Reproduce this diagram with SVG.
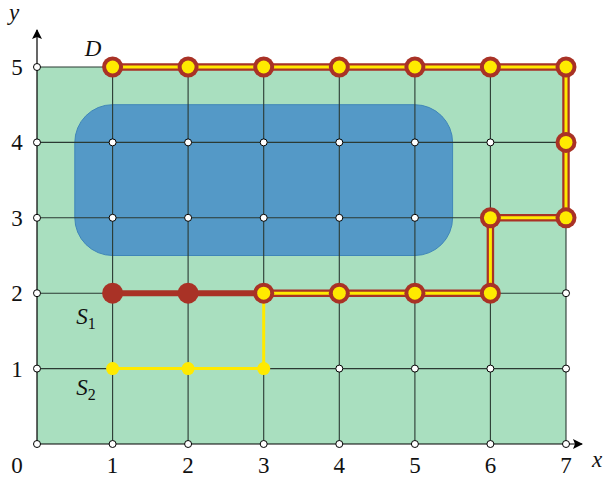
<svg xmlns="http://www.w3.org/2000/svg" width="604" height="482" viewBox="0 0 604 482">
<defs>
<style>
.grid{stroke:#2b3a33;stroke-width:1.1;fill:none}
.pt{fill:#fff;stroke:#000;stroke-width:1}
.lbl{font-family:"Liberation Serif",serif;font-size:23px;fill:#111;text-anchor:middle}
.it{font-style:italic}
.sub{font-size:16px}
.casing{fill:none;stroke:#a93226;stroke-width:7.5;stroke-linejoin:round}
.core{fill:none;stroke:#ffea00;stroke-width:3;stroke-linejoin:round}
.bd{fill:#a93226}
.yd{fill:#ffea00}
</style>
<marker id="arr" viewBox="0 0 10 10" refX="9" refY="5" markerWidth="10" markerHeight="10" markerUnits="userSpaceOnUse" orient="auto">
<path d="M0,0 L10,5 L0,10 L2,5 Z" fill="#000"/>
</marker>
</defs>
<rect x="0" y="0" width="604" height="482" fill="#fff"/>
<g id="region">
<rect x="37" y="67" width="529" height="377" fill="#a9dfbf"/>
<rect x="74.8" y="104.7" width="377.8" height="150.8" rx="37.8" ry="37.8" fill="#5499c7" stroke="#3f86b8" stroke-width="1"/>
</g>
<g id="grid" class="grid">
<path d="M112.6 67V444M188.1 67V444M263.7 67V444M339.3 67V444M414.9 67V444M490.4 67V444M566 67V444"/>
<path d="M37 67H566M37 142.4H566M37 217.8H566M37 293.2H566M37 368.6H566"/>
</g>
<g id="axes">
<line x1="37" y1="444" x2="37" y2="30" stroke="#000" stroke-width="1.2" marker-end="url(#arr)"/>
<line x1="37" y1="444" x2="582" y2="444" stroke="#000" stroke-width="1.2" marker-end="url(#arr)"/>
</g>
<g id="points">
<circle class="pt" cx="37" cy="444" r="3.5"/><circle class="pt" cx="112.6" cy="444" r="3.5"/><circle class="pt" cx="188.1" cy="444" r="3.5"/><circle class="pt" cx="263.7" cy="444" r="3.5"/><circle class="pt" cx="339.3" cy="444" r="3.5"/><circle class="pt" cx="414.9" cy="444" r="3.5"/><circle class="pt" cx="490.4" cy="444" r="3.5"/><circle class="pt" cx="566" cy="444" r="3.5"/>
<circle class="pt" cx="37" cy="368.6" r="3.5"/><circle class="pt" cx="339.3" cy="368.6" r="3.5"/><circle class="pt" cx="414.9" cy="368.6" r="3.5"/><circle class="pt" cx="490.4" cy="368.6" r="3.5"/><circle class="pt" cx="566" cy="368.6" r="3.5"/>
<circle class="pt" cx="37" cy="293.2" r="3.5"/><circle class="pt" cx="566" cy="293.2" r="3.5"/>
<circle class="pt" cx="37" cy="217.8" r="3.5"/><circle class="pt" cx="112.6" cy="217.8" r="3.5"/><circle class="pt" cx="188.1" cy="217.8" r="3.5"/><circle class="pt" cx="263.7" cy="217.8" r="3.5"/><circle class="pt" cx="339.3" cy="217.8" r="3.5"/><circle class="pt" cx="414.9" cy="217.8" r="3.5"/>
<circle class="pt" cx="37" cy="142.4" r="3.5"/><circle class="pt" cx="112.6" cy="142.4" r="3.5"/><circle class="pt" cx="188.1" cy="142.4" r="3.5"/><circle class="pt" cx="263.7" cy="142.4" r="3.5"/><circle class="pt" cx="339.3" cy="142.4" r="3.5"/><circle class="pt" cx="414.9" cy="142.4" r="3.5"/><circle class="pt" cx="490.4" cy="142.4" r="3.5"/>
<circle class="pt" cx="37" cy="67" r="3.5"/>
</g>
<g id="S2">
<polyline points="112.6,368.6 263.7,368.6 263.7,293.2" fill="none" stroke="#ffea00" stroke-width="3"/>
<circle class="yd" cx="112.6" cy="368.6" r="6.5"/><circle class="yd" cx="188.1" cy="368.6" r="6.5"/><circle class="yd" cx="263.7" cy="368.6" r="6.5"/>
</g>
<g id="S1">
<line x1="112.6" y1="293.2" x2="263.7" y2="293.2" stroke="#a93226" stroke-width="6"/>
<circle class="bd" cx="112.6" cy="293.2" r="10.5"/><circle class="bd" cx="188.1" cy="293.2" r="10.5"/>
</g>
<g id="D">
<polyline class="casing" points="263.7,293.2 490.4,293.2 490.4,217.8 566,217.8 566,67 112.6,67"/>
<polyline class="core" points="263.7,293.2 490.4,293.2 490.4,217.8 566,217.8 566,67 112.6,67"/>
<g class="bd">
<circle cx="263.7" cy="293.2" r="10.5"/><circle cx="339.3" cy="293.2" r="10.5"/><circle cx="414.9" cy="293.2" r="10.5"/><circle cx="490.4" cy="293.2" r="10.5"/>
<circle cx="490.4" cy="217.8" r="10.5"/><circle cx="566" cy="217.8" r="10.5"/><circle cx="566" cy="142.4" r="10.5"/>
<circle cx="566" cy="67" r="10.5"/><circle cx="490.4" cy="67" r="10.5"/><circle cx="414.9" cy="67" r="10.5"/><circle cx="339.3" cy="67" r="10.5"/><circle cx="263.7" cy="67" r="10.5"/><circle cx="188.1" cy="67" r="10.5"/><circle cx="112.6" cy="67" r="10.5"/>
</g>
<g class="yd">
<circle cx="263.7" cy="293.2" r="6.5"/><circle cx="339.3" cy="293.2" r="6.5"/><circle cx="414.9" cy="293.2" r="6.5"/><circle cx="490.4" cy="293.2" r="6.5"/>
<circle cx="490.4" cy="217.8" r="6.5"/><circle cx="566" cy="217.8" r="6.5"/><circle cx="566" cy="142.4" r="6.5"/>
<circle cx="566" cy="67" r="6.5"/><circle cx="490.4" cy="67" r="6.5"/><circle cx="414.9" cy="67" r="6.5"/><circle cx="339.3" cy="67" r="6.5"/><circle cx="263.7" cy="67" r="6.5"/><circle cx="188.1" cy="67" r="6.5"/><circle cx="112.6" cy="67" r="6.5"/>
</g>
</g>
<g id="labels" class="lbl">
<text x="17" y="473">0</text>
<text x="112.6" y="473">1</text><text x="188.1" y="473">2</text><text x="263.7" y="473">3</text><text x="339.3" y="473">4</text><text x="414.9" y="473">5</text><text x="490.4" y="473">6</text><text x="566" y="473">7</text>
<text x="597" y="467" class="it">x</text>
<text x="17" y="376.5">1</text><text x="17" y="301">2</text><text x="17" y="225.5">3</text><text x="17" y="150">4</text><text x="17" y="75">5</text>
<text x="14" y="20" class="it">y</text>
<text x="93" y="56" class="it">D</text>
<text x="86" y="324"><tspan class="it">S</tspan><tspan class="sub" dy="5">1</tspan></text>
<text x="86" y="395"><tspan class="it">S</tspan><tspan class="sub" dy="5">2</tspan></text>
</g>
</svg>
